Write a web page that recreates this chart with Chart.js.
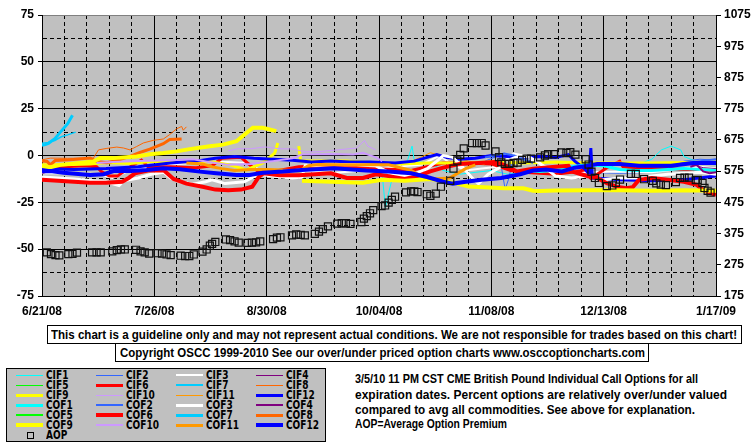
<!DOCTYPE html>
<html>
<head>
<meta charset="utf-8">
<script src="https://cdn.jsdelivr.net/npm/chart.js@4.4.1/dist/chart.umd.min.js"></script>
<style>
  html,body{margin:0;padding:0;background:#fff;}
  body{width:755px;height:446px;position:relative;overflow:hidden;font-family:"Liberation Sans",Arial,Helvetica,sans-serif;font-weight:bold;color:#000;}
  #c{position:absolute;left:0;top:0;}
  .box{position:absolute;box-sizing:border-box;border:1px solid #000;background:#fff;font-size:12px;line-height:16px;white-space:nowrap;}
  .box span{position:absolute;top:0;transform-origin:0 50%;}
  #legend{position:absolute;left:6px;top:368px;width:320px;height:74px;box-sizing:border-box;border:1px solid #000;background:#C0C0C0;}
  .lg-line{position:absolute;}
  .lg-text{position:absolute;font-family:"DejaVu Sans Condensed","DejaVu Sans","Liberation Sans",Arial,sans-serif;font-size:12px;line-height:12px;white-space:nowrap;color:#000;font-weight:bold;transform-origin:0 50%;}
  .note{position:absolute;left:355px;font-size:12px;line-height:15px;white-space:nowrap;transform-origin:0 50%;}
</style>
</head>
<body>
<canvas id="c" width="755" height="320"></canvas>
<div class="box" style="left:47px;top:325px;width:695px;height:19px;"><span class="fit" data-w="686" style="left:3px;top:1px;">This chart is a guideline only and may not represent actual conditions. We are not responsible for trades based on this chart!</span></div>
<div class="box" style="left:115px;top:343px;width:534px;height:19px;"><span class="fit" data-w="525" style="left:4px;top:1px;">Copyright OSCC 1999-2010 See our over/under priced option charts www.osccoptioncharts.com</span></div>
<div id="legend"></div>
<div class="note fit" data-w="343" style="top:372px;">3/5/10 11 PM CST CME British Pound Individual Call Options for all</div>
<div class="note fit" data-w="372" style="top:388px;">expiration dates. Percent options are relatively over/under valued</div>
<div class="note fit" data-w="340" style="top:403px;">compared to avg all commodities. See above for explanation.</div>
<div class="note fit" data-w="152" style="top:417px;">AOP=Average Option Premium</div>
<script>
// ---------- DATA (x = days since 6/21/08, y = % over/under) ----------
const xTickLabels = ['6/21/08','7/26/08','8/30/08','10/04/08','11/08/08','12/13/08','1/17/09'];
const seriesNames = ['CIF1','CIF2','CIF3','CIF4','CIF5','CIF6','CIF7','CIF8','CIF9','CIF10','CIF11','CIF12',
                     'COF1','COF2','COF3','COF4','COF5','COF6','COF7','COF8','COF9','COF10','COF11','COF12'];

const CIF1_d = [104,106,107,108,109,112,114,115.3,116,118,121,125,130,135,140,145,150,155,160,165,172,180,186,190,193,196,199,200,205,210];
const CIF1_v = [-6,-10,-28,-20,-13,-9,-2,5,-3,-3.5,-4,-8,-10,-9,-8,-10,-9,-8,-7.5,-7,-5.5,-5,-4.5,-2,3,5,3,-0.5,-4,-5];
const COF1_d = [150,155,160,165,170,175,180,185,190,195,200,205,210];
const COF1_v = [-8,-8.5,-8,-6,-5,-5.5,-7.5,-8,-8,-7.5,-7,-7.5,-8];

const CIF2_d = [138,141,142.5,143.5,144.3,145.5,147,150,154,160,170,180,190,197,200,205,210];
const CIF2_v = [-3,-1,0.5,-10,-18,-12,1,-1,-4,-8.5,-9,-9.5,-9,-6,-3,-2,-2.5];
const COF2_d = [138,141,144,147,150,153,154,195,200,205,210];
const COF2_v = [-1,0,1,0,-2,-4,null,-6,-4,-3,-2];

const CIF3_d = [0,10,18,22,26,30,40,50,58,64,68,75,80,90,100,110,118,124,127,132,137,142,147,150,153,160,170,180,190,200,205,210];
const CIF3_v = [-9.5,-9.5,-10,-12,-9,-7,-5,-3.5,-3.5,-4,-8,-8,-8,-9.5,-8,-6,-5,0,-4,-8,-7,-6,1,0,-3,-8,-9,-8.5,-9,-7,-6,-7];
const COF3_d = [0,10,16,20,24,25.5,30,34,38,40,43,47,51,53,57,63,67.5,72,78,81,82,90,98,104,108,112,116,120,123,125,128,131,134,136,139,143,146,149,152,155,160,165,170,175,180,185,190,195,200,205,210];
const COF3_v = [-11.5,-12.5,-13.5,-14,-16,-13.5,-12,-10,-9,-12,-14,-15.3,-14,-13,-15,-14,-10,-11,-12,-11.5,-5.5,-5,-5,-5.5,-9,-11,-10,-7,-3,0,-1,-6,-12,-15,-10,-6,-2,0,-1,-4,-11,-12,-11,-13,-12,-12,-11,-10,-9.5,-9,-10];

const CIF4_d = [203,206,210];
const CIF4_v = [-5,-6.5,-7];
const COF4_d = [202,204,206,208,210];
const COF4_v = [-6,-5,-8.5,-9.5,-9];

const CIF5_d = [];
const CIF5_v = [];
const COF5_d = [];
const COF5_v = [];

const CIF6_d = [0,7,13,17,18.5,21,23.5,25.5,28,31,33,40,48,53,56,62,64,67,72,80,88,95,102,110,115,120,125,133,140,146,150,155,160,165,170,171,173,176,180,181,185,195,205,210];
const CIF6_v = [-9,-6,-5.5,-6,-8.5,-11,-11,-8.5,-5.5,-2.5,-6,-6,-6.5,-5.5,-1.5,-1,-4,-8,-8.5,-6,-5.5,-6,-7,-7.5,-8,-6,-4,-4,-4.5,-8,-9,-9.5,-10,-9,-7.5,-12,-10,-6.5,-3,-6,-7,-7,-8,-8];
const COF6_d = [0,5,10,15,20,25,27,29,33,38,41,45,50,54,58,62,65.5,67.5,69,74,80,85,90,95,100,104,108,113,117,121,125,130,136,141,144,148,153,160,164,165,168,171,173,176,179,182,184,186,190,195,200,204,206,208,210];
const COF6_v = [-13,-13.5,-14,-14.5,-14.5,-14,-12,-9.5,-8,-8,-12.5,-15,-16.7,-18.2,-18.5,-18.2,-16.7,-11.5,-9.5,-10.5,-10.5,-10,-9.5,-12,-12,-10,-11,-12.5,-11,-8.5,-6.5,-4.5,-4,-3.5,-5,-8.5,-7,-6,-5.5,-8.5,-10,-11.5,-12,-14.8,-16.6,-17.5,-17,-13,-12,-13,-14,-15.7,-18.4,-20,-21];

const CIF7_d = [0,2,4,6,8,10.5];
const CIF7_v = [6.5,7,8,10,11,12.5];
const COF7_d = [0,1,2,4,6,8,9.5];
const COF7_v = [5.5,5.8,6.5,9,13,17,21.5];

const CIF8_d = [0,2.6,8,16,17.6,20.2,23.3,25.4,27.4,29.5,31.6,34.7,37.8,39.8,41.9,43.5,44,45];
const CIF8_v = [-2.3,-1.4,-1.5,-1.4,3,3.8,4.5,4,3,4.8,6.7,8.1,8.8,11.2,14.2,15.5,13.5,15.3];
const COF8_d = [0,1.6,2.6,4.1,8.8,15,17.1,20.2,23.3,27.4,30.5,33.6,37.8,39.8,43.5];
const COF8_v = [-2.9,-3.2,-5,-2.7,-2.3,-1.4,-3.2,-3.8,-2.7,-0.5,1.6,3.4,6.3,8.5,8.8];

const CIF9_d = [0,6.7,15,20.2,27.4,33.6,41.9,48.1,52.3,58.5,63.7,68.8,72.5,73.5,74,80,80.6,86,95,104,112,120,130,140,150,160,170,180,190,200,210];
const CIF9_v = [-5,-5,-4.6,-3.8,-4.3,-3.2,-3.2,-3.8,-3.2,-5,-7.7,-4,1.3,6.7,null,5,-3,-3,-3,-4,-4.5,-4,-4,-3.5,-4,-3.5,-4,-4,-4,-3.8,-3.5];
const COF9_d = [0,2.6,5.7,16,18.1,22.2,29.5,33.6,37.8,41.9,46,52.3,56.4,60.6,63.7,65.7,68.8,73,77,81,90,100,106,113,121,129,133,144,150,153,155,160,170,180,190,200,210];
const COF9_v = [-5.6,-6.3,-5,-3.2,-1.4,-1.4,-0.5,0.7,1.3,2.2,3.4,4.9,5.8,7.6,12,14.8,14.8,13,null,-13.5,-14,-14.5,-13,-13.5,-12.5,-14.8,-16.6,-17.5,-17.5,-18.8,-19,-18.7,-18.5,-18.5,-18.8,-18.5,-18.8];

const CIF10_d = [58,61,65,69.5,74,78,80,82,86,92,98,100.5,101.5,104];
const CIF10_v = [2.5,3.6,3.6,4.6,3.6,3.5,2.7,2,2,3,4,8,5,3];
const COF10_d = [17,22,30,40,47,52,58,65,72,78,81,90,97,100,104,106];
const COF10_v = [-4,-3.5,-3,-2.5,-2,-3.5,-5,-4.5,-3,-1.5,0.5,0.8,0.5,1.5,-1,-3];

const CIF11_d = [110,115,118,121,123,128,133,138];
const CIF11_v = [-4,-3,-1,1.5,0.5,-1,-3,-5];
const COF11_d = [45,50,53,56,60,65,70,75,80,83,86,95,104,108,115,118,122,127,130,132,135];
const COF11_v = [-4,-4.5,-6,-7,-8,-7.5,-7.5,-7.8,-8.3,-5.5,-4.8,-5,-5,-5,-8,-11,-12.5,-12,-9,-7,-5];

const CIF12_d = [0,10,20,30,40,48,54,60,66,72,78,84,90,96,102,110,116,120,123,126,130,135,140,145,150,155,160,164,166,169,170.5,171,171.5,180,190,200,210];
const CIF12_v = [-7,-7.5,-7,-6,-4,-3,-1.5,-0.5,-1.5,-2,-2.5,-3.5,-3,-3.5,-3.5,-4,-3,-1,0.5,-1,-2,-1.5,0,-0.5,-1,-0.5,-1,0.5,-3,-7,-10,4,-12,-13,-13.5,-13,-11];
const COF12_d = [0,2.6,6.7,15,19.2,22.3,27.4,32.6,37.8,43,49.2,54.3,60.6,64.7,68.8,75,81,91,101,108,115,120,125,128,132,137,143,149,153,157,162,166,170,173,180,186,196,203,210];
const COF12_v = [-8.6,-8.3,-9.2,-10.4,-10,-8.3,-8.3,-7.7,-6.8,-7.3,-8.6,-9.5,-10.4,-10.4,-9.2,-8.6,-7.7,-6.8,-8,-8.5,-9.5,-11.5,-14,-15,-14,-13,-12,-10,-8,-7.5,-8.5,-6.5,-5.5,-4.5,-4.5,-5.5,-5.5,-4,-4];

// Average Option Premium (right axis)
const aopDays = [1.5,2.8,4.2,5.4,8.2,9.5,10.9,15.6,17,18.3,21.9,23.3,24.6,25.8,29.3,30.7,32,33.4,36,37.4,38.8,40.1,43.2,44.6,45.9,47.3,50,51.3,52.3,53,54,57.3,58.6,60,61.3,64,65.4,66.7,68,72,73.2,74.3,77.9,79.2,80.6,81.9,85,86.3,87.5,89.1,92,93.4,94.7,96.1,99.5,100.3,101.2,102.2,103.2,105.8,106.9,108,109,110,113.4,115,116,117,119.9,121,122.7,124.3,127.2,128.2,129.4,130.3,131.4,134,135.5,137,138.2,141.3,142.4,143.1,144.2,145.6,146.9,148.2,149.6,151,152.4,155.2,156.7,157.7,159.5,161.8,163.4,164.6,166.2,169.4,170.3,171.2,172.3,173.5,176,177.7,178.8,180.1,183.5,185,187.6,190.3,191.4,192.8,194.4,197.5,198.8,200.2,201.6,203.7,204.3,205.8,206.4,207.4,208.3];
const aopValues = [315,309,306,305,309,310,314,315,315,315,318,322,324,324,323,318,315,311,312,311,308,306,304,303,303,308,317,324,336,342,348,356,354,350,346,345,346,347,350,357,362,363,369,372,371,369,374,381,389,398,407,408,408,406,412,423,431,440,450,463,465,474,483,493,507,510,510,508,501,496,503,525,544,583,609,627,648,665,665,665,657,638,620,603,598,598,601,602,611,615,615,619,625,629,629,635,633,636,628,613,596,573,553,537,527,529,537,548,566,566,549,544,536,532,530,540,553,554,554,546,547,537,521,512,506];

// ---------- STYLE ----------
const STYLE = {
  CIF1:{c:'#00FFFF',w:1}, CIF2:{c:'#3366FF',w:1}, CIF3:{c:'#FFFFFF',w:2}, CIF4:{c:'#800080',w:1},
  CIF5:{c:'#00FF00',w:1}, CIF6:{c:'#FF0000',w:3}, CIF7:{c:'#00CCFF',w:1.5}, CIF8:{c:'#FF6600',w:1},
  CIF9:{c:'#FFFF00',w:3}, CIF10:{c:'#CC99FF',w:1}, CIF11:{c:'#FF9900',w:1}, CIF12:{c:'#0000FF',w:3},
  COF1:{c:'#00FFFF',w:3}, COF2:{c:'#3366FF',w:2}, COF3:{c:'#FFFFFF',w:3}, COF4:{c:'#800080',w:2},
  COF5:{c:'#00FF00',w:2}, COF6:{c:'#FF0000',w:4}, COF7:{c:'#00CCFF',w:3}, COF8:{c:'#FF6600',w:3},
  COF9:{c:'#FFFF00',w:4}, COF10:{c:'#CC99FF',w:2}, COF11:{c:'#FF9900',w:3}, COF12:{c:'#0000FF',w:4}
};
const SERIES = {
  CIF1:[CIF1_d,CIF1_v], CIF2:[CIF2_d,CIF2_v], CIF3:[CIF3_d,CIF3_v], CIF4:[CIF4_d,CIF4_v],
  CIF5:[CIF5_d,CIF5_v], CIF6:[CIF6_d,CIF6_v], CIF7:[CIF7_d,CIF7_v], CIF8:[CIF8_d,CIF8_v],
  CIF9:[CIF9_d,CIF9_v], CIF10:[CIF10_d,CIF10_v], CIF11:[CIF11_d,CIF11_v], CIF12:[CIF12_d,CIF12_v],
  COF1:[COF1_d,COF1_v], COF2:[COF2_d,COF2_v], COF3:[COF3_d,COF3_v], COF4:[COF4_d,COF4_v],
  COF5:[COF5_d,COF5_v], COF6:[COF6_d,COF6_v], COF7:[COF7_d,COF7_v], COF8:[COF8_d,COF8_v],
  COF9:[COF9_d,COF9_v], COF10:[COF10_d,COF10_v], COF11:[COF11_d,COF11_v], COF12:[COF12_d,COF12_v]
};
const zip = (d,v) => d.map((x,i)=>({x:x, y:v[i]}));

const datasets = [{
  label:'AOP', yAxisID:'y2', order:0,
  data: zip(aopDays, aopValues),
  showLine:false, pointStyle:'rect', pointRadius:5, pointHoverRadius:5,
  pointBorderColor:'#111', pointBackgroundColor:'rgba(0,0,0,0)', pointBorderWidth:1.2,
  borderColor:'#111', backgroundColor:'rgba(0,0,0,0)'
}];
seriesNames.forEach((n,i)=>{
  datasets.push({
    label:n, yAxisID:'y', order: 1 + (seriesNames.length-1-i),
    data: zip(SERIES[n][0], SERIES[n][1]),
    borderColor: STYLE[n].c, borderWidth: STYLE[n].w, backgroundColor: STYLE[n].c,
    pointRadius:0, pointHoverRadius:0, tension:0, fill:false, spanGaps:false
  });
});

const FONT = {family:'"Liberation Sans", Arial, Helvetica, sans-serif', size:12, weight:'bold'};
const bgPlugin = {
  id:'bg',
  beforeDraw(chart){
    const {ctx, chartArea:a} = chart;
    ctx.save(); ctx.fillStyle='#C0C0C0';
    ctx.fillRect(a.left, a.top, a.right-a.left, a.bottom-a.top);
    ctx.restore();
  }
};
const isMinorY = v => Math.abs(v % 25) > 0.01;

new Chart(document.getElementById('c'), {
  type:'line',
  data:{datasets},
  plugins:[bgPlugin],
  options:{
    responsive:false, animation:false, devicePixelRatio:1,
    layout:{padding:{top:15,left:0,right:0,bottom:0}},
    plugins:{legend:{display:false}, tooltip:{enabled:false}, title:{display:false}},
    scales:{
      x:{
        type:'linear', min:0, max:210,
        afterFit(s){ s.height = 24; },
        ticks:{stepSize:7, autoSkip:false, maxRotation:0, minRotation:0, padding:8, color:'#000', font:FONT,
          callback:v => (v % 35 === 0) ? xTickLabels[v/35] : ''},
        grid:{color:'#000', lineWidth:1, drawTicks:false},
        border:{display:true, color:'#000', width:1,
          dash: ctx => (ctx.tick && ctx.tick.value % 35 !== 0) ? [4,3] : []}
      },
      y:{
        type:'linear', position:'left', min:-75, max:75,
        afterFit(s){ s.width = 42; },
        ticks:{stepSize:12.5, padding:4, color:'#000', font:FONT,
          callback:v => isMinorY(v) ? '' : String(v)},
        grid:{lineWidth:1, tickLength:4,
          color: ctx => (ctx.tick && ctx.tick.value === 75) ? '#808080' : '#000',
          tickColor: ctx => (ctx.tick && isMinorY(ctx.tick.value)) ? 'rgba(0,0,0,0)' : '#000'},
        border:{display:true, color:'#000', width:1,
          dash: ctx => (ctx.tick && isMinorY(ctx.tick.value)) ? [4,3] : []}
      },
      y2:{
        type:'linear', position:'right', min:175, max:1075,
        afterFit(s){ s.width = 39; },
        ticks:{stepSize:100, padding:3, color:'#000', font:FONT, callback:v => String(v)},
        grid:{drawOnChartArea:false, drawTicks:true, tickLength:5, color:'#000'},
        border:{display:true, color:'#000', width:1}
      }
    }
  }
});

// ---------- HTML legend (built from the series list) ----------
const lg = document.getElementById('legend');
const lgLabels = [];
seriesNames.forEach((n,i)=>{
  const col = i % 4, row = Math.floor(i/4);
  const st = STYLE[n];
  const cy = 6 + row*10;
  const w = Math.max(1, Math.round(st.w));
  const ln = document.createElement('div');
  ln.className = 'lg-line';
  ln.style.cssText = `left:${9+col*80}px;top:${cy - Math.floor(w/2)}px;width:27px;height:${w}px;background:${st.c};`;
  const tx = document.createElement('div');
  tx.className = 'lg-text';
  tx.textContent = n;
  tx.style.left = (39+col*80)+'px'; tx.style.top = (cy-6)+'px';
  lg.appendChild(ln); lg.appendChild(tx); lgLabels.push(tx);
});
{
  const row = 6, cy = 6 + row*10;
  const sq = document.createElement('div');
  sq.style.cssText = `position:absolute;left:20px;top:${cy-3}px;width:5px;height:5px;border:1px solid #000;`;
  const tx = document.createElement('div');
  tx.className = 'lg-text'; tx.textContent = 'AOP';
  tx.style.left = '39px'; tx.style.top = (cy-6)+'px';
  lg.appendChild(sq); lg.appendChild(tx); lgLabels.push(tx);
}

// fit text runs to the widths measured on the reference
document.querySelectorAll('.fit').forEach(el=>{
  const target = parseFloat(el.dataset.w);
  const w = el.getBoundingClientRect().width;
  if (w > 0) el.style.transform = `scaleX(${target/w})`;
});
// legend labels: "COF12" is about 33px wide in the original
{
  const ref = lgLabels[23].getBoundingClientRect().width;
  const s = ref > 0 ? Math.min(1, 33/ref) : 1;
  lgLabels.forEach(el => el.style.transform = `scaleX(${s})`);
}
</script>
</body>
</html>
